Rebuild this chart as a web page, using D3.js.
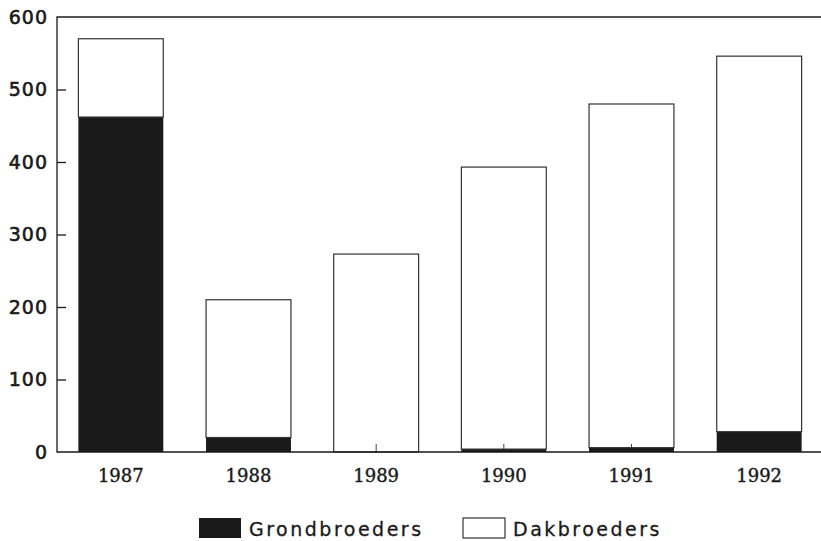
<!DOCTYPE html>
<html>
<head>
<meta charset="utf-8">
<script src="https://cdn.jsdelivr.net/npm/d3@7"></script>
<style>
  body { margin: 0; background: #fff; }
</style>
</head>
<body>
<div id="chart"></div>
<script>
// Data
var years = ["1987", "1988", "1989", "1990", "1991", "1992"];
var grondbroeders = [462, 20, 0, 4, 6, 28];
var dakbroeders = [108, 190, 273, 389, 474, 518];
var yTicks = [0, 100, 200, 300, 400, 500, 600];
var legendLabels = ["Grondbroeders", "Dakbroeders"];

var svgWidth = 821;
var svgHeight = 541;

var margin = { top: 17, right: -2, bottom: 89, left: 57 };
var chartWidth = svgWidth - margin.left - margin.right;
var chartHeight = svgHeight - margin.top - margin.bottom;

var svg = d3.select("#chart")
    .append("svg")
    .attr("width", svgWidth)
    .attr("height", svgHeight);

var chartGroup = svg.append("g")
    .attr("transform", `translate(${margin.left}, ${margin.top})`);

// build stacked rows
var rows = years.map(function(y, i) {
    return { year: y, grond: grondbroeders[i], dak: dakbroeders[i] };
});
var stack = d3.stack().keys(["grond", "dak"]);
var series = stack(rows);

var xScale = d3.scaleBand()
    .domain(years)
    .range([0, chartWidth])
    .paddingInner(0.335)
    .paddingOuter(0.1675);

var yScale = d3.scaleLinear()
    .domain([0, 600])
    .range([chartHeight, 0]);

var ink = "#1a1a1a";

// x axis ticks (small, pointing up) - drawn first so black bars cover them
var xAxis = d3.axisTop(xScale)
    .tickSize(8)
    .tickFormat("");
chartGroup.append("g")
    .attr("transform", `translate(0, ${chartHeight})`)
    .call(xAxis)
    .call(g => g.select(".domain").remove())
    .selectAll("line").attr("stroke", "#444").attr("stroke-width", 1);

// bars
var fills = { grond: ink, dak: "none" };
series.forEach(function(s) {
    chartGroup.append("g")
        .selectAll("rect")
        .data(s)
        .enter()
        .append("rect")
        .attr("x", d => xScale(d.data.year))
        .attr("y", d => yScale(d[1]))
        .attr("width", xScale.bandwidth())
        .attr("height", d => yScale(d[0]) - yScale(d[1]))
        .attr("fill", fills[s.key])
        .attr("stroke", s.key === "dak" ? "#333" : "none")
        .attr("stroke-width", 1.2);
});

// frame: left, top and bottom lines
chartGroup.append("path")
    .attr("d", `M${chartWidth},0H0V${chartHeight}H${chartWidth}`)
    .attr("fill", "none")
    .attr("stroke", ink)
    .attr("stroke-width", 1.3);

// y axis ticks (inward) and labels
var yAxis = d3.axisRight(yScale)
    .tickValues(yTicks.slice(1, -1))
    .tickSize(9)
    .tickFormat("");
chartGroup.append("g")
    .call(yAxis)
    .call(g => g.select(".domain").remove())
    .selectAll("line").attr("stroke", ink).attr("stroke-width", 1.3);

chartGroup.append("g")
    .selectAll("text")
    .data(yTicks)
    .enter()
    .append("text")
    .attr("x", -9)
    .attr("y", d => yScale(d))
    .attr("dy", "0.36em")
    .attr("text-anchor", "end")
    .style("font-family", "DejaVu Sans, sans-serif")
    .style("font-size", "19px")
    .style("letter-spacing", "1px")
    .attr("fill", ink)
    .attr("stroke", ink)
    .attr("stroke-width", 0.6)
    .text(d => d);

chartGroup.append("g")
    .selectAll("text")
    .data(years)
    .enter()
    .append("text")
    .attr("x", d => xScale(d) + xScale.bandwidth() / 2)
    .attr("y", chartHeight + 30)
    .attr("text-anchor", "middle")
    .style("font-family", "DejaVu Serif, serif")
    .style("font-size", "18px")
    .attr("fill", ink)
    .attr("stroke", ink)
    .attr("stroke-width", 0.4)
    .text(d => d);

// legend
var legend = svg.append("g");
var legendX = [199, 463];
legendLabels.forEach(function(label, i) {
    legend.append("rect")
        .attr("x", legendX[i])
        .attr("y", 518)
        .attr("width", 42)
        .attr("height", 20)
        .attr("fill", i === 0 ? ink : "#fff")
        .attr("stroke", i === 0 ? "none" : "#333")
        .attr("stroke-width", 1.2);
    legend.append("text")
        .attr("x", legendX[i] + 50)
        .attr("y", 536)
        .style("font-family", "DejaVu Sans, sans-serif")
        .style("font-size", "19px")
        .style("letter-spacing", "2.5px")
        .attr("fill", ink)
        .attr("stroke", ink)
        .attr("stroke-width", 0.3)
        .text(label);
});
</script>
</body>
</html>
